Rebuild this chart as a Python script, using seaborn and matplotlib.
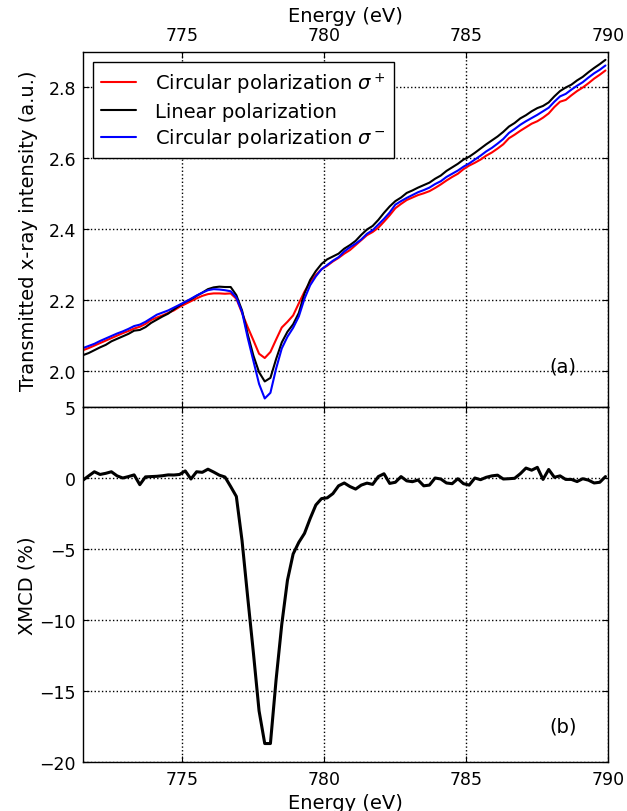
import numpy as np
import pandas as pd
import matplotlib
matplotlib.use("Agg")
import matplotlib.pyplot as plt
import seaborn as sns

# ---- data ----
energy_start = 771.5
energy_step = 0.2

sigma_plus = [
    2.060, 2.066, 2.073, 2.080, 2.087, 2.094, 2.101, 2.108, 2.114, 2.121,
    2.126, 2.134, 2.145, 2.152, 2.158, 2.165, 2.172, 2.182, 2.190, 2.198,
    2.206, 2.213, 2.218, 2.220, 2.220, 2.219, 2.220, 2.205, 2.165, 2.125,
    2.088, 2.050, 2.038, 2.055, 2.090, 2.124, 2.140, 2.158, 2.192, 2.225,
    2.252, 2.272, 2.288, 2.298, 2.310, 2.320, 2.332, 2.342, 2.356, 2.370,
    2.384, 2.393, 2.405, 2.422, 2.440, 2.460, 2.472, 2.483, 2.490, 2.497,
    2.502, 2.508, 2.517, 2.527, 2.538, 2.548, 2.557, 2.570, 2.580, 2.588,
    2.597, 2.608, 2.617, 2.628, 2.640, 2.657, 2.667, 2.678, 2.688, 2.698,
    2.705, 2.715, 2.727, 2.745, 2.760, 2.765, 2.778, 2.790, 2.800, 2.812,
    2.825, 2.836, 2.848,
]

linear = [
    2.046, 2.052, 2.060, 2.068, 2.075, 2.085, 2.092, 2.099, 2.106, 2.115,
    2.117, 2.125, 2.137, 2.146, 2.155, 2.163, 2.175, 2.186, 2.196, 2.203,
    2.213, 2.222, 2.232, 2.237, 2.239, 2.238, 2.238, 2.215, 2.172, 2.105,
    2.045, 1.998, 1.972, 1.982, 2.035, 2.082, 2.112, 2.133, 2.165, 2.220,
    2.258, 2.283, 2.303, 2.316, 2.324, 2.332, 2.346, 2.356, 2.368, 2.385,
    2.400, 2.410, 2.427, 2.447, 2.465, 2.480, 2.490, 2.503, 2.510, 2.518,
    2.525, 2.532, 2.543, 2.552, 2.565, 2.575, 2.585, 2.597, 2.605, 2.616,
    2.628, 2.640, 2.651, 2.662, 2.675, 2.690, 2.700, 2.713, 2.722, 2.733,
    2.742, 2.748, 2.758, 2.775, 2.790, 2.800, 2.808, 2.820, 2.830, 2.843,
    2.855, 2.866, 2.878,
]

sigma_minus = [
    2.066, 2.072, 2.078, 2.086, 2.093, 2.100, 2.107, 2.113, 2.120, 2.128,
    2.132, 2.140, 2.150, 2.160, 2.166, 2.172, 2.180, 2.188, 2.196, 2.205,
    2.214, 2.222, 2.229, 2.232, 2.231, 2.229, 2.226, 2.208, 2.168, 2.095,
    2.030, 1.965, 1.924, 1.940, 2.008, 2.065, 2.098, 2.123, 2.155, 2.205,
    2.243, 2.268, 2.288, 2.300, 2.312, 2.322, 2.338, 2.350, 2.360, 2.372,
    2.388, 2.398, 2.414, 2.430, 2.448, 2.470, 2.480, 2.489, 2.497, 2.505,
    2.511, 2.518, 2.528, 2.536, 2.548, 2.557, 2.566, 2.577, 2.586, 2.597,
    2.608, 2.620, 2.630, 2.642, 2.655, 2.672, 2.683, 2.695, 2.705, 2.714,
    2.723, 2.733, 2.743, 2.760, 2.775, 2.782, 2.794, 2.805, 2.815, 2.828,
    2.840, 2.850, 2.862,
]

xmcd = [
    -0.15, 0.15, 0.44, 0.25, 0.33, 0.44, 0.15, 0.00, 0.10, 0.22,
    -0.47, 0.08, 0.10, 0.12, 0.16, 0.22, 0.21, 0.25, 0.50, -0.07,
    0.44, 0.40, 0.62, 0.42, 0.20, 0.07, -0.60, -1.30, -4.40, -8.40,
    -12.3, -16.4, -18.7, -18.7, -14.2, -10.3, -7.2, -5.35, -4.53, -3.9,
    -2.85, -1.90, -1.45, -1.40, -1.10, -0.55, -0.35, -0.60, -0.78, -0.50,
    -0.36, -0.45, 0.10, 0.30, -0.38, -0.30, 0.10, -0.20, -0.26, -0.14,
    -0.55, -0.50, 0.00, -0.07, -0.35, -0.40, -0.05, -0.40, -0.50, 0.00,
    -0.12, 0.05, 0.15, 0.20, -0.07, -0.05, -0.02, 0.30, 0.70, 0.55,
    0.75, -0.10, 0.60, 0.05, 0.15, -0.10, -0.10, -0.25, -0.05, -0.15,
    -0.35, -0.30, 0.10,
]

series_labels = [r"Circular polarization $\sigma^+$",
                 "Linear polarization",
                 r"Circular polarization $\sigma^-$"]
series_colors = ["#ff0000", "#000000", "#0000ff"]

x_ticks = [775, 780, 785, 790]
top_yticks = [2.0, 2.2, 2.4, 2.6, 2.8]
bottom_yticks = [-20, -15, -10, -5, 0, 5]

# ---- build tables ----
n = len(xmcd)
energy = np.round(energy_start + energy_step * np.arange(n), 2)

top_df = pd.concat([
    pd.DataFrame({"Energy": energy, "Intensity": vals, "Series": lab})
    for vals, lab in zip([sigma_plus, linear, sigma_minus], series_labels)
], ignore_index=True)
bot_df = pd.DataFrame({"Energy": energy, "XMCD": xmcd})

# ---- style ----
sns.set_style("white")
plt.rcParams.update({
    "font.family": ["DejaVu Sans"],
    "font.size": 13,
    "mathtext.fontset": "dejavusans",
    "axes.edgecolor": "black",
    "axes.linewidth": 1.0,
    "xtick.direction": "in",
    "ytick.direction": "in",
    "xtick.color": "black",
    "ytick.color": "black",
    "xtick.major.size": 4,
    "ytick.major.size": 4,
    "xtick.major.width": 0.8,
    "ytick.major.width": 0.8,
    "xtick.major.pad": 6,
    "ytick.major.pad": 5,
    "axes.labelcolor": "black",
    "text.color": "black",
})

LABEL_FS = 14
TICK_FS = 12.5

fig = plt.figure(figsize=(6.27, 8.12), dpi=100)
ax1 = fig.add_axes([0.1324, 0.49754, 0.8378, 0.43719])
ax2 = fig.add_axes([0.1324, 0.06034, 0.8378, 0.43719])

palette = dict(zip(series_labels, series_colors))
sns.lineplot(data=top_df, x="Energy", y="Intensity", hue="Series",
             hue_order=series_labels, palette=palette, linewidth=1.5,
             ax=ax1, legend=True)
sns.lineplot(data=bot_df, x="Energy", y="XMCD", color="black",
             linewidth=2.2, ax=ax2)

for ax in (ax1, ax2):
    ax.set_xlim(771.5, 790)
    ax.set_xticks(x_ticks)
    ax.grid(True, linestyle=":", color="black", linewidth=1.0)
    ax.tick_params(axis="both", which="major", labelsize=TICK_FS,
                   top=True, bottom=True, left=True, right=True)
    for s in ax.spines.values():
        s.set_visible(True)
        s.set_color("black")

ax1.set_ylim(1.9, 2.9)
ax1.set_yticks(top_yticks)
ax1.set_yticklabels([f"{v:.1f}" for v in top_yticks])
ax1.tick_params(axis="x", labeltop=True, labelbottom=False)
ax1.xaxis.set_label_position("top")
ax1.set_xlabel("Energy (eV)", fontsize=LABEL_FS, labelpad=3)
ax1.set_ylabel("Transmitted x-ray intensity (a.u.)", fontsize=LABEL_FS)

ax2.set_ylim(-20, 5)
ax2.set_yticks(bottom_yticks)
ax2.set_xlabel("Energy (eV)", fontsize=LABEL_FS, labelpad=3)
ax2.set_ylabel("XMCD (%)", fontsize=LABEL_FS)

ax1.yaxis.set_label_coords(-0.085, 0.5)
ax2.yaxis.set_label_coords(-0.088, 0.5)

leg = ax1.legend(loc="upper left", fontsize=LABEL_FS, frameon=True,
                 fancybox=False, framealpha=1, edgecolor="black",
                 borderaxespad=0.5, handlelength=1.75, handletextpad=1.0,
                 labelspacing=0.3, borderpad=0.45)
leg.get_frame().set_linewidth(1.0)

ax1.text(0.914, 0.115, "(a)", transform=ax1.transAxes, ha="center",
         va="center", fontsize=LABEL_FS)
ax2.text(0.914, 0.101, "(b)", transform=ax2.transAxes, ha="center",
         va="center", fontsize=LABEL_FS)

fig.savefig("out.png", dpi=100)
